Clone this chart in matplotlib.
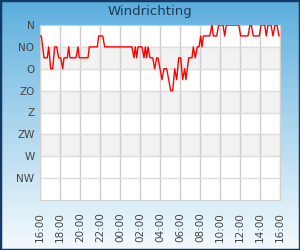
import numpy as np
import matplotlib
matplotlib.use("Agg")
import matplotlib.pyplot as plt
from matplotlib.patches import Rectangle

# hours after 16:00 and wind direction in degrees (N = 0, clockwise)
hours = [0.1, 0.13, 0.4, 0.73, 0.87, 1.07, 1.27, 1.47, 1.67, 1.87, 2.07, 2.27,
         2.4, 2.73, 2.87, 3.0, 3.6, 3.8, 3.93, 4.8, 4.93, 5.73, 5.87, 6.27,
         6.47, 9.2, 9.4, 9.53, 9.67, 9.8, 10.2, 10.4, 10.53, 10.67, 10.8,
         11.0, 11.27, 11.47, 11.67, 11.8, 12.2, 12.4, 12.67, 12.87, 13.07,
         13.27, 13.47, 13.67, 13.87, 14.07, 14.27, 14.47, 14.6, 14.87, 15.2,
         15.33, 15.53, 15.73, 15.9, 16.07, 16.2, 16.33, 16.97, 17.2, 17.33,
         17.67, 17.87, 18.3, 18.47, 18.63, 19.87, 20.07, 20.8, 21.0, 21.13,
         21.33, 21.93, 22.1, 22.47, 22.63, 22.8, 23.1, 23.3, 23.5, 23.7,
         23.9]
direction = [22.5, 22.5, 67.5, 67.5, 45, 90, 90, 45, 45, 67.5, 67.5, 90,
             67.5, 67.5, 45, 67.5, 67.5, 45, 67.5, 67.5, 45, 45, 22.5, 22.5,
             45, 45, 67.5, 45, 67.5, 45, 45, 67.5, 45, 67.5, 45,
             67.5, 67.5, 90, 67.5, 67.5, 112.5, 90, 90, 112.5, 135,
             135, 90, 112.5, 67.5, 67.5, 112.5, 90, 112.5, 67.5, 67.5,
             45, 67.5, 45, 45, 22.5, 45, 22.5, 22.5, 0, 22.5,
             22.5, 0, 0, 22.5, 0, 0, 22.5, 22.5, 0, 0,
             22.5, 22.5, 0, 0, 22.5, 0, 0, 22.5, 0, 0,
             22.5]

dir_labels = ['N', 'NO', 'O', 'ZO', 'Z', 'ZW', 'W', 'NW']
time_labels = ['16:00', '18:00', '20:00', '22:00', '00:00', '02:00', '04:00',
               '06:00', '08:00', '10:00', '12:00', '14:00', '16:00']

fig = plt.figure(figsize=(3, 2.5), dpi=100)

# gradient background
bg = fig.add_axes([0, 0, 1, 1], zorder=-10)
grad = np.linspace(0, 1, 256).reshape(-1, 1)
top = np.array([0x58, 0xac, 0xdc]) / 255
bot = np.array([0xf4, 0xfa, 0xfd]) / 255
img = top + (bot - top) * grad[:, :, None] ** 0.9
bg.imshow(img, aspect='auto', extent=[0, 1, 0, 1])
bg.set_axis_off()
fig.patches.append(Rectangle((0, 0), 1, 1, transform=fig.transFigure,
                             fill=False, edgecolor='#133a66', linewidth=2.5))

fig.text(0.5, 0.952, 'Windrichting', ha='center', va='center',
         fontsize=9.5, color='#1d3a5a')

ax = fig.add_axes([0.1333, 0.2, 0.8, 0.7])
ax.set_facecolor('white')
for i in [1, 3, 5]:
    ax.axhspan(i * 45, (i + 1) * 45, color='#f2f2f2', zorder=0)

ax.plot(hours, direction, color='#ff0000', linewidth=1, zorder=3)

ax.set_xlim(0, 24)
ax.set_ylim(360, 0)
ax.set_yticks(np.arange(0, 360, 45))
ax.set_yticklabels(dir_labels)
ax.set_xticks(np.arange(0, 25, 2))
ax.set_xticklabels(time_labels, rotation=90)
ax.tick_params(length=0, labelsize=7.5, labelcolor='#444444')
ax.tick_params(axis='x', pad=9)
ax.tick_params(axis='y', pad=4)
ax.grid(axis='x', color='#cccccc', linewidth=1, zorder=1)
ax.grid(axis='y', color='#dddddd', linewidth=1, zorder=1)
ax.set_axisbelow(True)
for s in ax.spines.values():
    s.set_color('#d0d0d0')

fig.savefig('out.png', dpi=100)
